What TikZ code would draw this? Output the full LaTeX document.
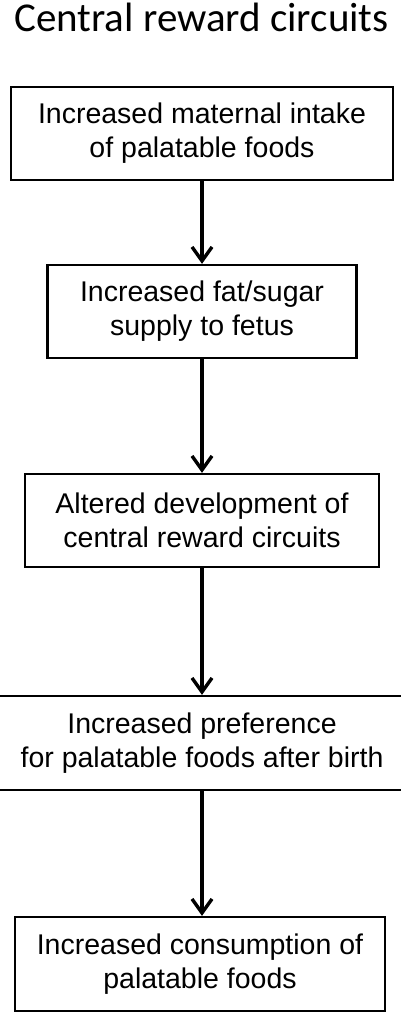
\documentclass[tikz,border=0pt]{standalone}
\usepackage{fontspec}
\setmainfont{Liberation Sans}
\newfontfamily\titlefont{Carlito}
\usetikzlibrary{arrows.meta}
\begin{document}
\begin{tikzpicture}[x=1pt,y=-1pt,
  stepbox/.style={draw=black,line width=2.3pt,inner sep=0pt,align=center,
    font=\fontsize{28.5}{34}\selectfont},
  flow/.style={line width=3.4pt,-{Straight Barb[length=14pt,width=20pt,line width=3.4pt]}}]
\clip (0,0) rectangle (401,1014);
\node[anchor=base,font=\titlefont\fontsize{41}{48}\selectfont] (title) at (201.5,32) {Central reward circuits};
\node[stepbox,minimum width=382pt,minimum height=93pt] (b1) at (202,133.5) {Increased maternal intake\\of palatable foods};
\node[stepbox,minimum width=309pt,minimum height=93pt] (b2) at (202,311.5) {Increased fat/sugar\\supply to fetus};
\node[stepbox,minimum width=354pt,minimum height=93pt] (b3) at (202,520.5) {Altered development of\\central reward circuits};
\node[stepbox,minimum width=440pt,minimum height=94pt] (b4) at (202,743) {Increased preference\\for palatable foods after birth};
\node[stepbox,minimum width=370pt,minimum height=94pt] (b5) at (200,964) {Increased consumption of\\palatable foods};
\draw[flow] (b1.south) -- (b2.north);
\draw[flow] (b2.south) -- (b3.north);
\draw[flow] (b3.south) -- (b4.north);
\draw[flow] (b4.south) -- (b4.south |- b5.north);
\end{tikzpicture}
\end{document}
